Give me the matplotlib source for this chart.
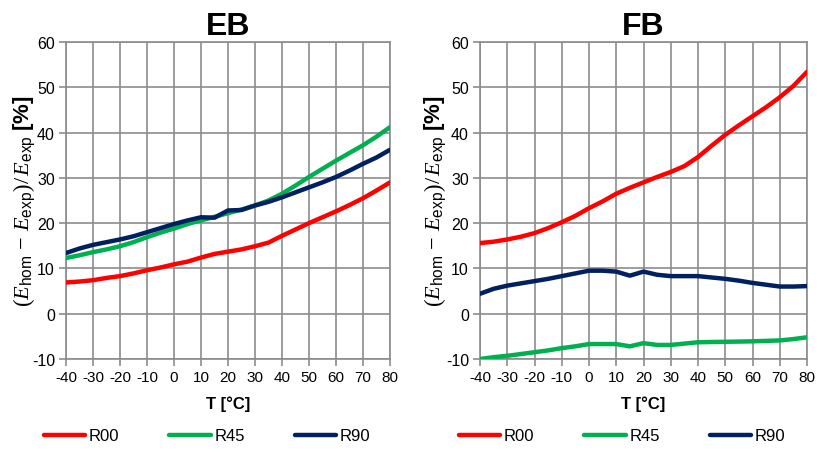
import matplotlib
matplotlib.use("Agg")
import matplotlib.pyplot as plt

plt.rcParams['mathtext.fontset'] = 'custom'
plt.rcParams['mathtext.rm'] = 'Liberation Serif'
plt.rcParams['mathtext.it'] = 'Liberation Serif:italic'
plt.rcParams['mathtext.sf'] = 'Liberation Sans'
plt.rcParams['mathtext.bf'] = 'Liberation Sans:bold'
plt.rcParams['font.family'] = ['Liberation Sans', 'DejaVu Sans']

# Temperature grid [°C]
T = [-40, -35, -30, -25, -20, -15, -10, -5, 0, 5, 10, 15, 20, 25, 30, 35, 40,
     45, 50, 55, 60, 65, 70, 75, 80]

# EB: relative deviation [%]
eb_r00 = [6.9, 7.1, 7.4, 7.9, 8.3, 8.9, 9.6, 10.2, 10.9, 11.5, 12.4, 13.2, 13.7,
          14.2, 14.9, 15.7, 17.2, 18.6, 20.0, 21.3, 22.6, 24.0, 25.5, 27.2, 29.0]
eb_r45 = [12.3, 12.9, 13.6, 14.2, 14.9, 15.8, 16.9, 17.9, 18.8, 19.8, 20.6, 21.4, 22.2,
          23.0, 23.9, 25.0, 26.5, 28.3, 30.2, 32.0, 33.8, 35.5, 37.2, 39.1, 41.2]
eb_r90 = [13.4, 14.4, 15.2, 15.8, 16.4, 17.1, 18.0, 18.9, 19.8, 20.6, 21.3, 21.2, 22.8,
          22.9, 23.9, 24.7, 25.7, 26.8, 27.9, 29.0, 30.2, 31.6, 33.1, 34.5, 36.2]

# FB: relative deviation [%]
fb_r00 = [15.6, 15.9, 16.4, 17.0, 17.8, 18.9, 20.2, 21.6, 23.3, 24.8, 26.5, 27.8, 29.0,
          30.2, 31.3, 32.6, 34.6, 37.1, 39.5, 41.6, 43.6, 45.6, 47.8, 50.3, 53.4]
fb_r45 = [-10.0, -9.6, -9.3, -8.9, -8.5, -8.1, -7.6, -7.2, -6.7, -6.7, -6.7, -7.2, -6.5,
          -6.9, -6.9, -6.6, -6.3, -6.25, -6.2, -6.15, -6.1, -6.0, -5.9, -5.6, -5.2]
fb_r90 = [4.4, 5.5, 6.2, 6.7, 7.2, 7.7, 8.3, 8.9, 9.5, 9.5, 9.3, 8.4, 9.3,
          8.6, 8.3, 8.3, 8.3, 8.0, 7.7, 7.3, 6.8, 6.4, 6.0, 6.0, 6.1]

series_names = ['R00', 'R45', 'R90']
colors = ['#FF0000', '#00B050', '#002060']
x_ticks = list(range(-40, 81, 10))
y_ticks = list(range(-10, 61, 10))

panels = [
    ('EB', [eb_r00, eb_r45, eb_r90], [66, 43, 390, 360], 207, 25),
    ('FB', [fb_r00, fb_r45, fb_r90], [480, 43, 807, 360], 622, 436),
]

W, H = 822, 456
fig = plt.figure(figsize=(W / 100, H / 100), dpi=100)
grid_col = '#8C8C8C'

for title, data, (x0, y0, x1, y1), leg_cx, ylab_x in panels:
    ax = fig.add_axes([x0 / W, 1 - y1 / H, (x1 - x0) / W, (y1 - y0) / H])
    lines = []
    for vals, name, c in zip(data, series_names, colors):
        ln, = ax.plot(T, vals, color=c, lw=3.2, label=name, solid_capstyle='round',
                      solid_joinstyle='round', zorder=3)
        lines.append(ln)
    ax.set_xlim(-40, 80)
    ax.set_ylim(-10, 60)
    ax.set_xticks(x_ticks)
    ax.set_yticks(y_ticks)
    ax.set_xticklabels([str(v) for v in x_ticks], fontsize=11)
    ax.set_yticklabels([str(v) for v in y_ticks], fontsize=11.5)
    ax.grid(True, color=grid_col, lw=1.2, zorder=0)
    for s in ax.spines.values():
        s.set_color(grid_col)
        s.set_linewidth(1.2)
    ax.tick_params(axis='both', direction='out', length=5, width=1.2, color=grid_col,
                   pad=3, labelcolor='black')
    ax.set_title(title, fontsize=23, fontweight='bold', pad=6)
    ax.set_xlabel('T [°C]', fontsize=12, fontweight='bold', labelpad=8)
    ax.set_ylabel(r'$\left(E_{\mathsf{hom}}\,-\,E_{\mathsf{exp}}\right)/\,E_{\mathsf{exp}}\ \mathbf{[\%]}$',
                  fontsize=16, va='center')
    ax.yaxis.set_label_coords((ylab_x - x0) / (x1 - x0), 0.5)
    fig.legend(handles=lines, loc='center', bbox_to_anchor=(leg_cx / W, 1 - 437 / H),
               ncol=3, frameon=False, prop={'size': 12},
               handlelength=2.5, handletextpad=0.2, columnspacing=3.0)

fig.savefig('out.png', dpi=100)
